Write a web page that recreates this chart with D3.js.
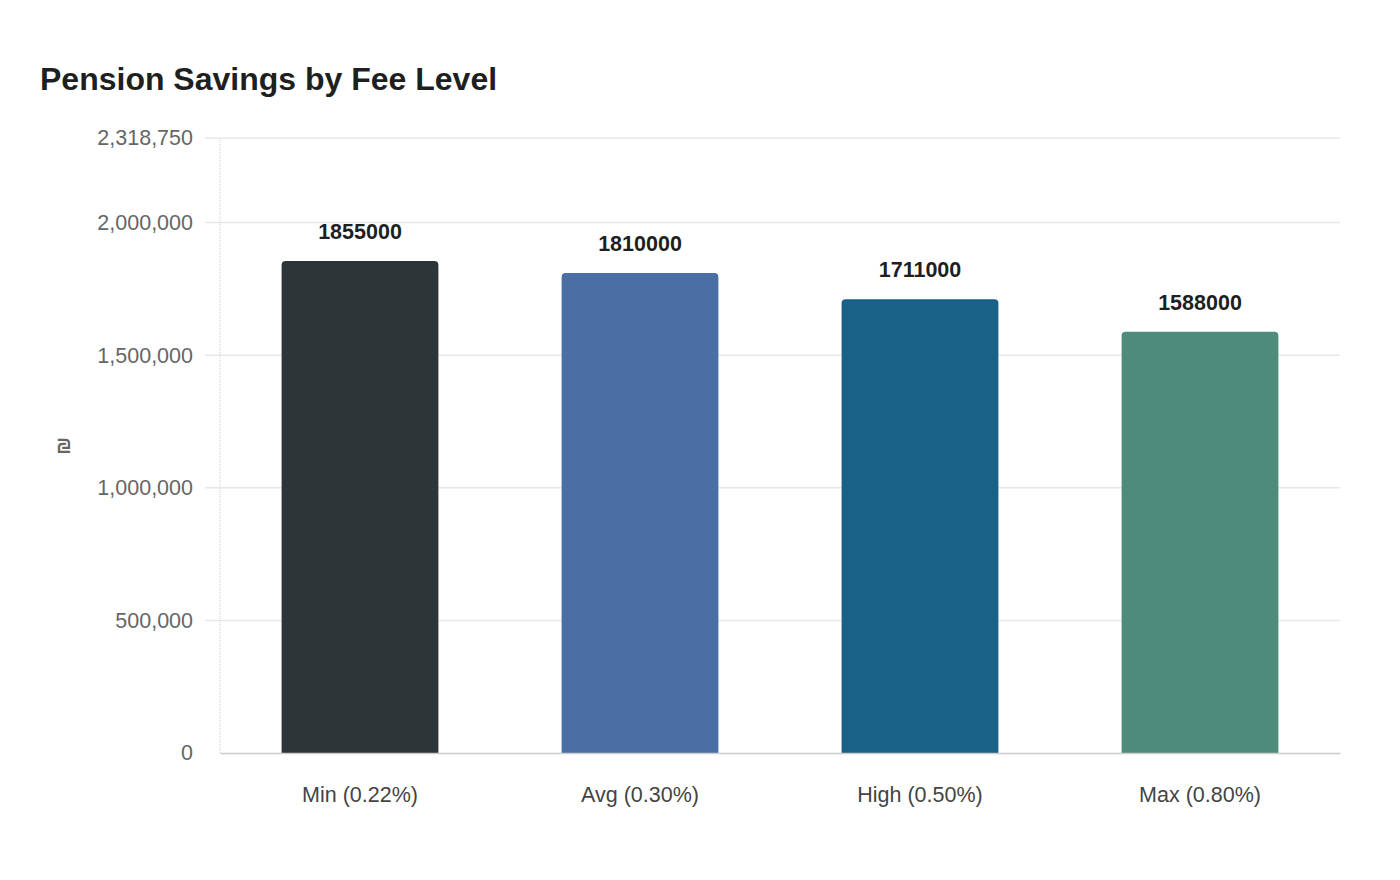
<!DOCTYPE html>
<html>
<head>
<meta charset="utf-8">
<script src="https://cdn.jsdelivr.net/npm/d3@7"></script>
<style>
  body { margin: 0; background: #fff; }
  svg { font-family: "Liberation Sans", Arial, sans-serif; }
</style>
</head>
<body>
<svg id="chart" width="1400" height="880"></svg>
<script>
const categories = ["Min (0.22%)", "Avg (0.30%)", "High (0.50%)", "Max (0.80%)"];
const savings = [1855000, 1810000, 1711000, 1588000];
const barColors = ["#2d3538", "#4a6fa5", "#196186", "#4e8b7a"];
const yTicks = [0, 500000, 1000000, 1500000, 2000000, 2318750];
const yMax = 2318750;

const chart = d3.select("#chart");
const plotLeft = 220, plotRight = 1340, plotTop = 138, plotBottom = 753;

const x = d3.scaleBand()
    .domain(categories)
    .range([plotLeft, plotRight])
    .paddingInner(0.44)
    .paddingOuter(0.22);

const y = d3.scaleLinear()
    .domain([0, yMax])
    .range([plotBottom, plotTop]);

// title
chart.append("text")
    .text("Pension Savings by Fee Level")
    .attr("x", 40)
    .attr("y", 90)
    .attr("font-size", "32px")
    .attr("font-weight", "bold")
    .attr("fill", "#1f1f1f");

// grid lines
const grid = chart.append("g").attr("id", "grid");
grid.selectAll("line")
    .data(yTicks.filter(d => d > 0))
    .enter()
    .append("line")
    .attr("x1", plotLeft - 15)
    .attr("x2", plotRight)
    .attr("y1", d => y(d))
    .attr("y2", d => y(d))
    .attr("stroke", "#e8e8e8")
    .attr("stroke-width", 1.5);

const yAxis = chart.append("g")
    .attr("transform", "translate(" + plotLeft + ",0)")
    .call(d3.axisLeft(y).tickValues(yTicks).tickFormat(d3.format(",")).tickSize(0).tickPadding(27));
yAxis.select(".domain").remove();
yAxis.selectAll("text")
    .attr("font-size", "21.5px")
    .attr("fill", "#666")
    .attr("font-family", "Liberation Sans, Arial, sans-serif");

// vertical axis line
chart.append("line")
    .attr("x1", plotLeft).attr("x2", plotLeft)
    .attr("y1", plotTop).attr("y2", plotBottom)
    .attr("stroke", "#d0d0d0")
    .attr("stroke-dasharray", "1,1");

// y label
chart.append("text")
    .text("₪")
    .attr("transform", "translate(70, 446) rotate(-90)")
    .attr("text-anchor", "middle")
    .attr("font-size", "20px")
    .attr("font-weight", "bold")
    .attr("fill", "#666");

// bars with rounded tops
const r = 4;
function barPath(d, i) {
    const x0 = x(categories[i]), w = x.bandwidth();
    const y0 = y(d), y1 = y(0);
    return "M" + x0 + "," + y1 +
        "V" + (y0 + r) +
        "Q" + x0 + "," + y0 + " " + (x0 + r) + "," + y0 +
        "H" + (x0 + w - r) +
        "Q" + (x0 + w) + "," + y0 + " " + (x0 + w) + "," + (y0 + r) +
        "V" + y1 + "Z";
}

chart.append("g").attr("id", "bars")
    .selectAll("path")
    .data(savings)
    .enter()
    .append("path")
    .attr("d", barPath)
    .attr("fill", (d, i) => barColors[i]);

// value labels
chart.append("g").attr("id", "values")
    .selectAll("text")
    .data(savings)
    .enter()
    .append("text")
    .text(d => d)
    .attr("x", (d, i) => x(categories[i]) + x.bandwidth() / 2)
    .attr("y", d => y(d) - 22)
    .attr("text-anchor", "middle")
    .attr("font-size", "21.5px")
    .attr("font-weight", "bold")
    .attr("fill", "#1f1f1f");

// x axis
const xAxis = chart.append("g")
    .attr("transform", "translate(0," + plotBottom + ")")
    .call(d3.axisBottom(x).tickSize(0).tickPadding(34));
xAxis.select(".domain")
    .attr("stroke", "#cccccc")
    .attr("stroke-width", 1.5);
xAxis.selectAll("text")
    .attr("font-size", "21.5px")
    .attr("fill", "#444")
    .attr("font-family", "Liberation Sans, Arial, sans-serif");
</script>
</body>
</html>
